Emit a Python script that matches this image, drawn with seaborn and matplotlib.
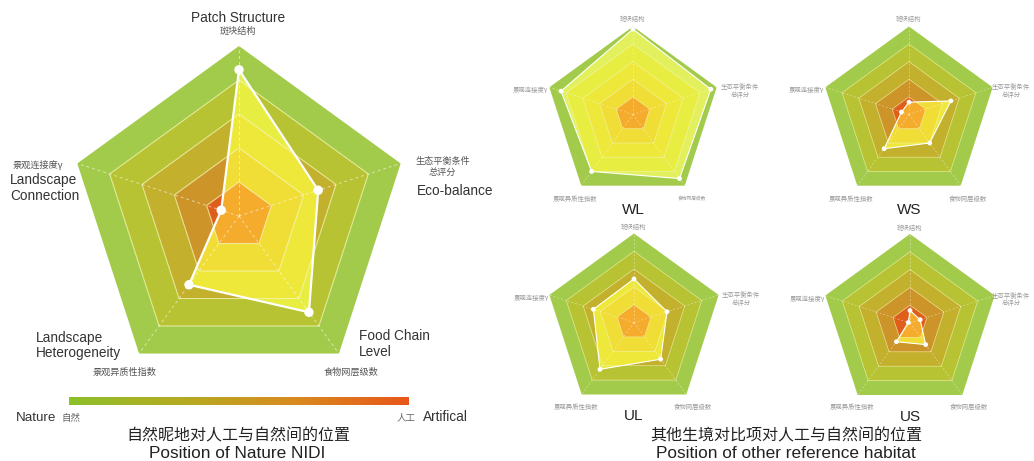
import numpy as np
import matplotlib
matplotlib.use("Agg")
import matplotlib.pyplot as plt
from matplotlib.patches import Polygon
from matplotlib.colors import LinearSegmentedColormap
import seaborn as sns

# ---------------- data ----------------
axes_en = ["Patch Structure", "Eco-balance", "Food Chain Level",
           "Landscape Heterogeneity", "Landscape Connection"]
axes_cn = ["斑块结构", "生态平衡条件\n总评分", "食物网层级数", "景观异质性指数", "景观连接度γ"]
levels = [1, 2, 3, 4, 5]
nidi = [4.3, 2.45, 3.5, 2.5, 0.55]
wl = [4.85, 4.65, 4.5, 4.0, 4.3]
ws = [0.7, 2.5, 2.0, 2.4, 0.45]
ul = [2.45, 1.95, 2.55, 3.25, 2.4]
us = [0.7, 0.6, 1.5, 1.3, 0.1]
habitat_names = ["WL", "WS", "UL", "US"]
habitat_values = [wl, ws, ul, us]

# ---------------- style ----------------
sns.set_theme(style="white")
EN = ["Liberation Sans", "Noto Sans CJK SC"]
CN = ["Noto Sans CJK SC", "Liberation Sans"]
plt.rcParams["font.family"] = EN

ring_colors = {5: "#a2cb4b", 4: "#b7c332", 3: "#c3b02c", 2: "#cd9529", 1: "#df5e1b"}
covered_colors = {5: "#e3f05e", 4: "#e8ed42", 3: "#eee83a", 2: "#f0de36", 1: "#f5ab2c"}

W, H = 1034, 461
fig = plt.figure(figsize=(W / 100, H / 100), dpi=100)
fig.patch.set_facecolor("white")

theta = np.deg2rad(90 - 72 * np.arange(5))


def pent(r):
    return np.column_stack([r * np.cos(theta), r * np.sin(theta)])


def radar_axes(cx, cy, R):
    ax = fig.add_axes([(cx - R) / W, 1 - (cy + R) / H, 2 * R / W, 2 * R / H])
    ax.set_xlim(-5, 5)
    ax.set_ylim(-5, 5)
    ax.axis("off")
    return ax


def draw_radar(ax, values, big):
    for k in levels[::-1]:
        ax.add_patch(Polygon(pent(k), closed=True, fc=ring_colors[k], ec="none", zorder=1))
    vals = np.asarray(values, dtype=float)
    pts = np.column_stack([vals * np.cos(theta), vals * np.sin(theta)])
    clip = Polygon(pts, closed=True, fc="none", ec="none", zorder=0)
    ax.add_patch(clip)
    for k in levels[::-1]:
        p = Polygon(pent(k), closed=True, fc=covered_colors[k], ec="none", zorder=2)
        ax.add_patch(p)
        p.set_clip_path(clip)
    for k in levels[:-1]:
        ax.add_patch(Polygon(pent(k), closed=True, fc="none", ec="#f4f7b8",
                             lw=0.8 if big else 0.5, alpha=0.75, zorder=3))
    for t in theta:
        ax.plot([0, 5 * np.cos(t)], [0, 5 * np.sin(t)], ls=(0, (3, 3)),
                color="white", lw=0.7 if big else 0.45, alpha=0.55, zorder=3)
    closed = np.vstack([pts, pts[:1]])
    ax.plot(closed[:, 0], closed[:, 1], color="white", lw=1.6 if big else 0.8,
            zorder=4, solid_joinstyle="round")
    sns.scatterplot(x=pts[:, 0], y=pts[:, 1], ax=ax, color="white",
                    s=46 if big else 12, edgecolor="none", zorder=5, legend=False)
    ax.set_xlim(-5, 5)
    ax.set_ylim(-5, 5)
    ax.axis("off")


def ftext(x, y, s, **kw):
    return fig.text(x / W, 1 - y / H, s, **kw)


# ---------------- main radar ----------------
ax_main = radar_axes(239, 216, 170)
draw_radar(ax_main, nidi, True)

dark = "#333333"
cn_dark = "#555555"
ftext(238, 22, "Patch Structure", ha="center", va="baseline", fontsize=9.8, color=dark, family=EN)
ftext(238, 31.5, axes_cn[0], ha="center", va="center", fontsize=6.6, color=cn_dark, family=CN)
ftext(442.5, 161, "生态平衡条件", ha="center", va="center", fontsize=6.6, color=cn_dark, family=CN)
ftext(442.5, 172, "总评分", ha="center", va="center", fontsize=6.6, color=cn_dark, family=CN)
ftext(416.5, 195, "Eco-balance", ha="left", va="baseline", fontsize=9.8, color=dark, family=EN)
ftext(13, 165, axes_cn[4], ha="left", va="center", fontsize=6.6, color=cn_dark, family=CN)
ftext(10, 183.5, "Landscape", ha="left", va="baseline", fontsize=9.8, color=dark, family=EN)
ftext(10, 200, "Connection", ha="left", va="baseline", fontsize=9.8, color=dark, family=EN)
ftext(36, 341.5, "Landscape", ha="left", va="baseline", fontsize=9.8, color=dark, family=EN)
ftext(36, 356.5, "Heterogeneity", ha="left", va="baseline", fontsize=9.8, color=dark, family=EN)
ftext(125, 372, axes_cn[3], ha="center", va="center", fontsize=6.6, color=cn_dark, family=CN)
ftext(359, 340, "Food Chain", ha="left", va="baseline", fontsize=9.8, color=dark, family=EN)
ftext(359, 355.5, "Level", ha="left", va="baseline", fontsize=9.8, color=dark, family=EN)
ftext(351.5, 372, axes_cn[2], ha="center", va="center", fontsize=6.6, color=cn_dark, family=CN)

# gradient legend bar
cmap = LinearSegmentedColormap.from_list("nat_art", ["#8dc02a", "#b5ab22", "#d98a1f", "#e8561a"])
ax_bar = fig.add_axes([69 / W, 1 - 405 / H, 340 / W, 8 / H])
ax_bar.imshow(np.linspace(0, 1, 256)[None, :], aspect="auto", cmap=cmap)
ax_bar.axis("off")
ftext(16, 421, "Nature", ha="left", va="baseline", fontsize=9.6, color=dark, family=EN)
ftext(61, 420.5, "自然", ha="left", va="baseline", fontsize=6.8, color="#666666", family=CN)
ftext(468, 421, "Artifical", ha="right", va="baseline", fontsize=9.8, color=dark, family=EN)
ftext(416, 420.5, "人工", ha="right", va="baseline", fontsize=6.8, color="#666666", family=CN)

ftext(238, 436, "自然昵地对人工与自然间的位置", ha="center", va="center", fontsize=11.5,
      color="#222222", family=CN)
ftext(237, 453, "Position of Nature NIDI", ha="center", va="center", fontsize=12.4,
      color="#222222", family=EN)

# ---------------- small radars ----------------
layout = [(633, 114.5, 88), (909, 114.5, 88), (634, 322.5, 89), (910, 323, 89)]
label_dy = [95.5, 95.5, 93.5, 93.5]
gray = "#9a9a9a"
for name, vals, (cx, cy, R), ldy in zip(habitat_names, habitat_values, layout, label_dy):
    ax = radar_axes(cx, cy, R)
    draw_radar(ax, vals, False)
    ex = min(cx + 107, W - 23)
    ftext(cx, cy - 95.5, axes_cn[0], ha="center", va="center", fontsize=4.6, color=gray, family=CN)
    ftext(ex, cy - 27.5, "生态平衡条件", ha="center", va="center", fontsize=4.6, color=gray, family=CN)
    ftext(ex, cy - 19.5, "总评分", ha="center", va="center", fontsize=4.6, color=gray, family=CN)
    ftext(cx - 103, cy - 24.5, axes_cn[4], ha="center", va="center", fontsize=4.6, color=gray, family=CN)
    ftext(cx - 58, cy + 84, axes_cn[3], ha="center", va="center", fontsize=4.6, color=gray, family=CN)
    ftext(cx + 59, cy + 84, axes_cn[2], ha="center", va="center",
          fontsize=3.4 if name == "WL" else 4.6, color=gray, family=CN)
    ftext(cx, cy + ldy, name, ha="center", va="center", fontsize=11, color="#222222", family=EN)

ftext(786, 436, "其他生境对比项对人工与自然间的位置", ha="center", va="center", fontsize=11.5,
      color="#222222", family=CN)
ftext(786, 453, "Position of other reference habitat", ha="center", va="center", fontsize=12.4,
      color="#222222", family=EN)

fig.savefig("out.png", dpi=100, facecolor="white")
